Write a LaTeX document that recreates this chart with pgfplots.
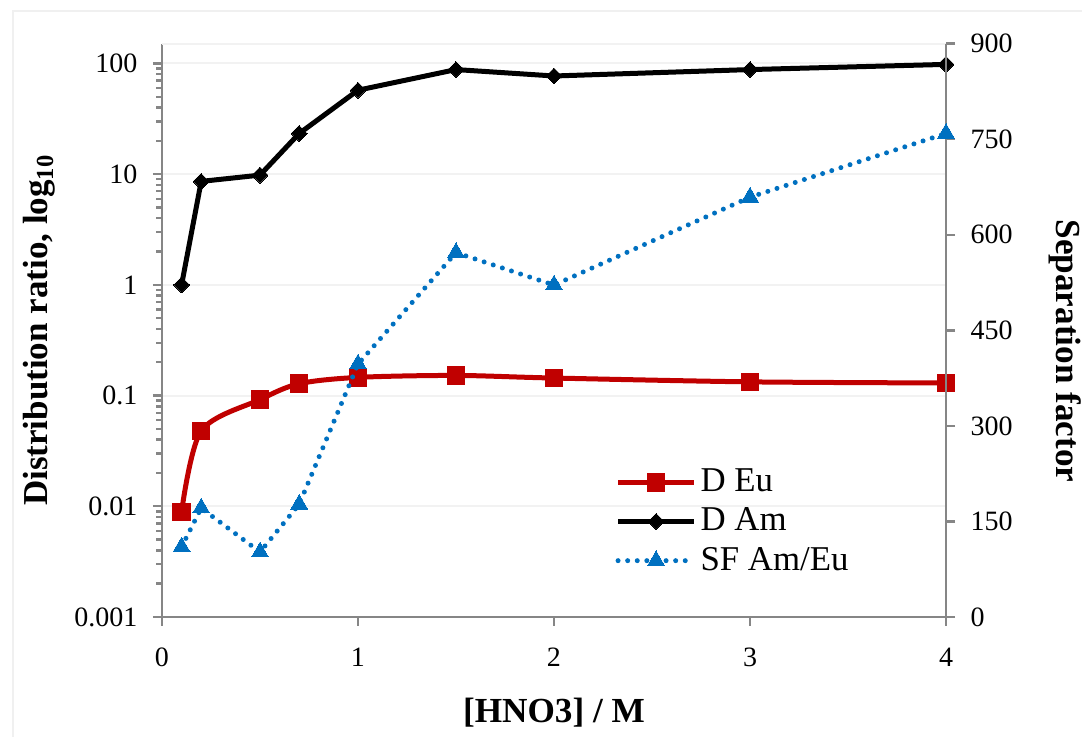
\documentclass[border=0pt]{standalone}
\usepackage{fontspec}
\setmainfont{Liberation Serif}
\usepackage{pgfplots}
\pgfplotsset{compat=1.18}
\definecolor{exred}{HTML}{C00000}
\definecolor{exblue}{HTML}{0070C0}
\definecolor{axgray}{HTML}{868686}
\definecolor{gridc}{HTML}{F2F2F2}
\pgfplotstableread{
x y
0.1 0.0089
0.2 0.048
0.5 0.092
0.7 0.128
1.0 0.146
1.5 0.152
2.0 0.144
3.0 0.133
4.0 0.130
}\eudata
\pgfplotstableread{
x y
0.1 1.0
0.2 8.6
0.5 9.8
0.7 23.3
1.0 57.3
1.5 88
2.0 77
3.0 88
4.0 98
}\amdata
\pgfplotstableread{
x y
0.1 110
0.2 171
0.5 102
0.7 177
1.0 397
1.5 572
2.0 521
3.0 659
4.0 759
}\sfdata
\tikzset{
  eustyle/.style={exred, line width=2.5pt, line join=round, mark=square*, mark size=4.4pt, mark options={solid, fill=exred, draw=exred, line width=0pt}},
  amstyle/.style={black, line width=2.5pt, line join=round, mark=square*, mark size=2.8pt, mark options={solid, rotate=45, fill=black, line width=0pt}},
  sfstyle/.style={exblue, line width=2.5pt, line cap=round, dash pattern=on 0pt off 4.8pt, mark=triangle*, mark size=4.9pt, mark options={solid, fill=exblue, draw=exblue, line width=0pt}},
}
\begin{document}
\fontsize{14}{17}\selectfont
\begin{tikzpicture}
\useasboundingbox (-81pt,-59.5pt) rectangle (460pt,308.5pt);
\draw[black!6, line width=0.8pt] (-74.5pt,-60pt) -- (-74.5pt,303pt) -- (461pt,303pt);
\pgfplotsset{
  every axis/.append style={
    scale only axis, width=392pt, height=286.7pt,
    xmin=0, xmax=4,
    axis line style={axgray, line width=1.2pt},
    tick style={axgray, line width=1.2pt},
    major tick length=4.5pt,
    tick align=outside,
    /pgf/number format/assume math mode=true,
    tick label style={font=\fontsize{14}{17}\selectfont},
  }
}
\begin{axis}[
  name=ax,
  ymode=log, ymin=0.001, ymax=151,
  axis y line*=left, axis x line*=bottom,
  xtick={0,1,2,3,4},
  ytick={0.001,0.01,0.1,1,10,100},
  yticklabels={0.001,0.01,0.1,1,10,100},
  minor ytick={},
  ymajorgrids, grid style={gridc, line width=1pt},
  xlabel={[HNO3] / M},
  ylabel={Distribution ratio, log\textsubscript{10}},
  xlabel style={font=\fontsize{17.6}{21}\selectfont\bfseries, at={(rel axis cs:0.5,0)}, anchor=center, yshift=-48pt},
  ylabel style={font=\fontsize{17.5}{21}\selectfont\bfseries, at={(rel axis cs:-0.156,0.5)}, anchor=center},
  xticklabel style={yshift=-6pt},
  yticklabel style={xshift=-3pt},
  clip=false,
]
\addplot[eustyle, smooth, tension=0.5] table[x=x,y=y] {\eudata};
\addplot[amstyle] table[x=x,y=y] {\amdata};
\end{axis}
\draw[gridc, line width=1pt] (ax.north west) -- (ax.north east);
\begin{axis}[
  ymin=0, ymax=900,
  axis y line*=right, axis x line=none,
  ytick={0,150,...,900},
  ylabel={Separation factor},
  ylabel style={font=\fontsize{17.6}{21}\selectfont\bfseries, at={(rel axis cs:1.152,0.464)}, anchor=center, rotate=180},
  yticklabel style={xshift=3pt},
  legend style={at={(rel axis cs:0.578,0.266)}, anchor=north west, draw=none, fill=none,
    font=\fontsize{17.4}{21}\selectfont, row sep=2pt, inner sep=0pt,
    /tikz/every even column/.append style={column sep=0pt}},
  legend cell align=left,
  legend image code/.code={\draw[mark repeat=2, mark phase=2, #1] plot coordinates {(0pt,0pt) (19pt,0pt) (38pt,0pt)};},
  clip=false,
]
\addlegendimage{eustyle}
\addlegendentry{D Eu}
\addlegendimage{amstyle}
\addlegendentry{D Am}
\addplot[sfstyle] table[x=x,y=y] {\sfdata};
\addlegendentry{SF Am/Eu}
\end{axis}
\end{tikzpicture}
\end{document}
